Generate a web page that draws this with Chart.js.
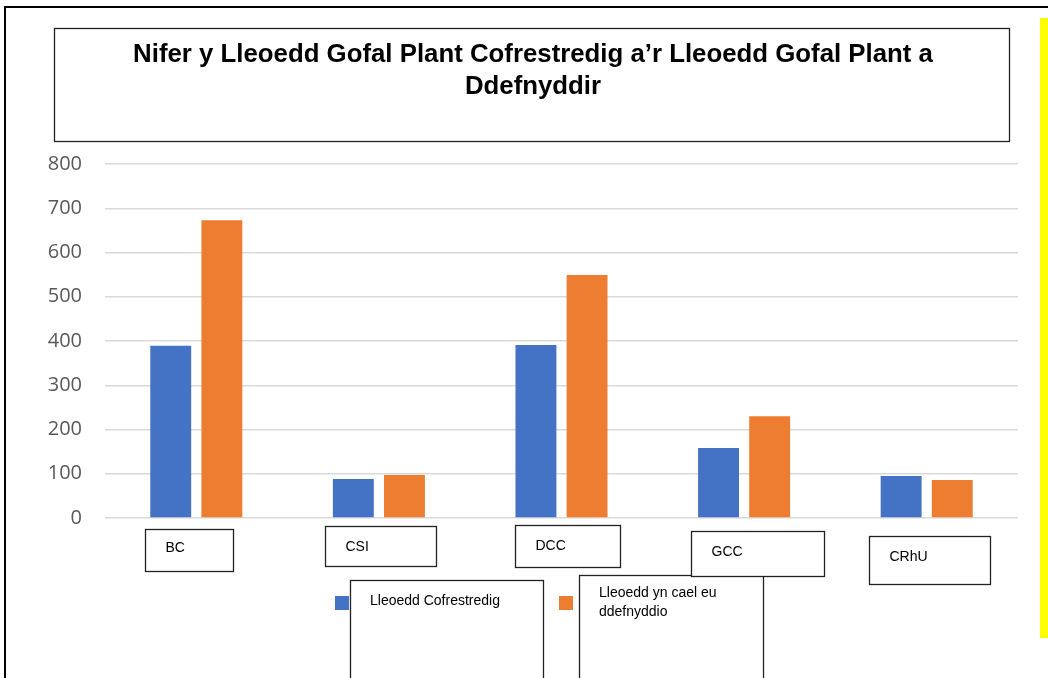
<!DOCTYPE html>
<html>
<head>
<meta charset="utf-8">
<script src="https://cdn.jsdelivr.net/npm/chart.js@4.4.0/dist/chart.umd.min.js"></script>
<style>
  html, body { margin: 0; padding: 0; background: #fff; }
  #wrap { position: relative; width: 1048px; height: 678px; }
</style>
</head>
<body>
<div id="wrap"><canvas id="barChart"></canvas></div>
<script>
// data
const categories = ['BC', 'CSI', 'DCC', 'GCC', 'CRhU'];
const registeredPlaces = [389, 88, 391, 158, 95];
const placesUsed = [673, 97, 549, 230, 86];
const yTicks = [0, 100, 200, 300, 400, 500, 600, 700, 800];
const titleLines = ['Nifer y Lleoedd Gofal Plant Cofrestredig a\u2019r Lleoedd Gofal Plant a', 'Ddefnyddir'];
const seriesNames = [['Lleoedd Cofrestredig'], ['Lleoedd yn cael eu', 'ddefnyddio']];

// hand-placed text boxes under each category (offset from the category centre / axis line)
const labelBoxes = [
    { dx: -51, dy: 11, w: 88, h: 42, ty: 19 },
    { dx: -54, dy: 8, w: 111, h: 40, ty: 21 },
    { dx: -47, dy: 7, w: 105, h: 42, ty: 21 },
    { dx: -53, dy: 13, w: 133, h: 45, ty: 21 },
    { dx: -58, dy: 18, w: 121, h: 48, ty: 21 }
];

const blue = '#4472C4';
const orange = '#ED7D31';

const boxesPlugin = {
    id: 'boxes',
    beforeDraw(chart) {
        const ctx = chart.ctx;
        ctx.save();
        ctx.fillStyle = '#fff';
        ctx.fillRect(0, 0, chart.width, chart.height);
        ctx.restore();
    },
    afterDraw(chart) {
        const ctx = chart.ctx;
        const xs = chart.scales.x;
        const bottom = chart.chartArea.bottom;
        ctx.save();

        // outer frame (top + left only visible)
        ctx.strokeStyle = '#000';
        ctx.lineWidth = 2;
        ctx.beginPath();
        ctx.moveTo(5, 678);
        ctx.lineTo(5, 7);
        ctx.lineTo(1048, 7);
        ctx.stroke();

        // yellow strip at the right
        ctx.fillStyle = '#FFFF00';
        ctx.fillRect(1040, 18, 8, 620);

        // title box
        ctx.lineWidth = 1.3;
        ctx.strokeStyle = '#222';
        ctx.strokeRect(54.5, 28.5, 955, 113);
        ctx.fillStyle = '#000';
        ctx.font = 'bold 25.8px "Liberation Sans", Arial, sans-serif';
        ctx.textAlign = 'center';
        ctx.textBaseline = 'alphabetic';
        ctx.fillText(titleLines[0], 533, 62, 824);
        ctx.fillText(titleLines[1], 533, 94);

        // legend
        ctx.font = '14px "Liberation Sans", Arial, sans-serif';
        ctx.textAlign = 'left';
        ctx.textBaseline = 'middle';
        const legendItems = [
            { color: blue, sq: 335, box: [350, 580, 193, 120], tx: 370, ty: [601] },
            { color: orange, sq: 559, box: [579, 575, 184, 120], tx: 599, ty: [593, 612] }
        ];
        legendItems.forEach((it, i) => {
            ctx.fillStyle = it.color;
            ctx.fillRect(it.sq, 596, 14, 14);
            ctx.fillStyle = '#fff';
            ctx.fillRect(it.box[0], it.box[1], it.box[2], it.box[3]);
            ctx.strokeStyle = '#222';
            ctx.strokeRect(it.box[0] + 0.5, it.box[1] + 0.5, it.box[2], it.box[3]);
            ctx.fillStyle = '#000';
            seriesNames[i].forEach((line, j) => ctx.fillText(line, it.tx, it.ty[j]));
        });

        // category label boxes
        categories.forEach((cat, i) => {
            const b = labelBoxes[i];
            const cx = xs.getPixelForValue(i);
            const x = Math.round(cx + b.dx) + 0.5;
            const y = Math.round(bottom + b.dy) + 0.5;
            ctx.fillStyle = '#fff';
            ctx.fillRect(x, y, b.w, b.h);
            ctx.strokeStyle = '#222';
            ctx.strokeRect(x, y, b.w, b.h);
            ctx.fillStyle = '#000';
            ctx.fillText(cat, x + 20, y + b.ty);
        });

        ctx.restore();
    }
};

document.addEventListener('DOMContentLoaded', function () {
    const ctxBar = document.getElementById('barChart').getContext('2d');
    new Chart(ctxBar, {
        type: 'bar',
        data: {
            labels: categories,
            datasets: [{
                label: seriesNames[0].join(' '),
                data: registeredPlaces,
                backgroundColor: blue,
                categoryPercentage: 0.56,
                barPercentage: 0.8
            }, {
                label: seriesNames[1].join(' '),
                data: placesUsed,
                backgroundColor: orange,
                categoryPercentage: 0.56,
                barPercentage: 0.8
            }]
        },
        options: {
            responsive: true,
            maintainAspectRatio: false,
            animation: false,
            layout: { padding: { top: 164, bottom: 160, left: 0, right: 30 } },
            plugins: {
                legend: { display: false },
                title: { display: false },
                tooltip: { enabled: false }
            },
            scales: {
                x: { display: false },
                y: {
                    min: 0,
                    max: 800,
                    afterFit(scale) { scale.width = 105; },
                    afterBuildTicks(scale) { scale.ticks = yTicks.map(v => ({ value: v })); },
                    border: { display: false },
                    grid: { color: '#d9d9d9', lineWidth: 1.5, drawTicks: false },
                    ticks: {
                        padding: 23,
                        color: '#595959',
                        font: { family: '"Open Sans", sans-serif', size: 20 }
                    }
                }
            }
        },
        plugins: [boxesPlugin]
    });
});
</script>
</body>
</html>
